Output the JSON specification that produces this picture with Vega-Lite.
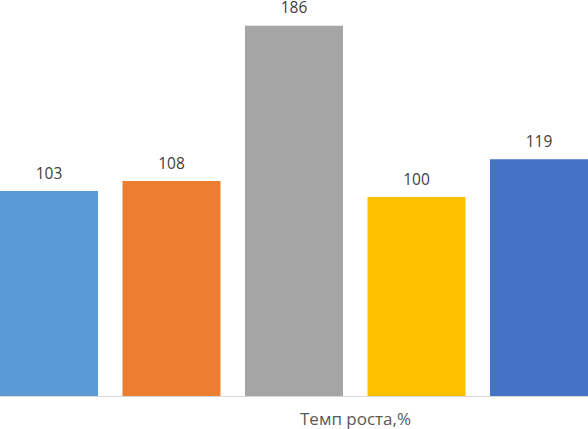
{
  "$schema": "https://vega.github.io/schema/vega-lite/v6.json",
  "width": 588,
  "height": 396,
  "padding": {"top": 0, "left": 0, "right": 0, "bottom": 33},
  "autosize": {"type": "none"},
  "background": "white",
  "config": {"view": {"stroke": null}, "font": "Open Sans"},
  "data": {"values": [
    {"s": "1", "v": 103},
    {"s": "2", "v": 108},
    {"s": "3", "v": 186},
    {"s": "4", "v": 100},
    {"s": "5", "v": 119}
  ]},
  "encoding": {
    "x": {"field": "s", "type": "nominal", "sort": null,
      "scale": {"paddingInner": 0.2, "paddingOuter": 0},
      "axis": {"title": "Темп роста,%", "labels": false, "ticks": false, "domain": true, "domainColor": "#d9d9d9",
        "titleX": 355, "titleY": 28, "titleBaseline": "alphabetic", "titleFontSize": 17, "titleFontWeight": "normal", "titleColor": "#595959", "titleFont": "Open Sans"}},
    "y": {"field": "v", "type": "quantitative", "scale": {"domain": [0, 199]}, "axis": null}
  },
  "layer": [
    {"mark": {"type": "bar"},
     "encoding": {"color": {"field": "s", "type": "nominal", "legend": null,
       "scale": {"range": ["#5B9BD5", "#ED7D31", "#A5A5A5", "#FFC000", "#4472C4"]}}}},
    {"mark": {"type": "text", "dy": -12.5, "baseline": "alphabetic", "fontSize": 15.5, "color": "#404040"},
     "encoding": {"text": {"field": "v", "type": "quantitative"}}}
  ]
}
